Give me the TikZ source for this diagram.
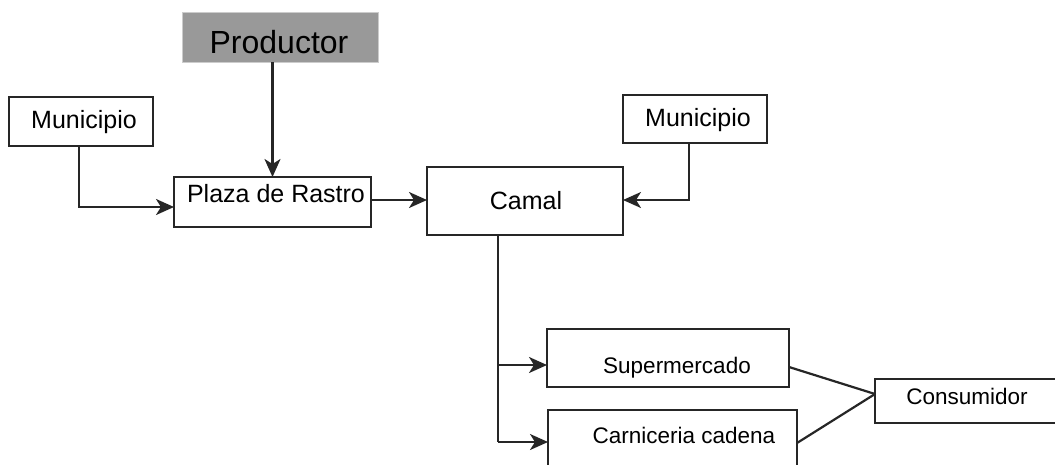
\documentclass[tikz,border=0pt]{standalone}
\usepackage{fontspec}
\setmainfont{Liberation Sans}
\usetikzlibrary{arrows.meta,calc}
\definecolor{ln}{HTML}{262626}
\definecolor{prodgray}{HTML}{999999}
\tikzset{
  box/.style={draw=ln, line width=2.2pt, fill=white, inner sep=0pt, outer sep=0pt},
  graybox/.style={draw=black!20, line width=1pt, fill=prodgray, inner sep=0pt, outer sep=0pt},
  conn/.style={draw=ln, line width=2.2pt},
  arr/.style={conn, -{Stealth[length=18pt,width=16pt,inset=5pt]}},
  txt/.style={anchor=base, inner sep=0pt, text=black},
  big/.style={font=\fontsize{32}{36}\selectfont},
  mid/.style={font=\fontsize{25}{29}\selectfont},
  sml/.style={font=\fontsize{22.5}{26}\selectfont},
}
\begin{document}
\begin{tikzpicture}[x=1pt,y=-1pt]
\useasboundingbox (0,0) rectangle (1055,464);
\clip (0,0) rectangle (1055,464);
% boxes
\node[graybox, minimum width=196, minimum height=50] (prod) at (280,37) {};
\node[box, minimum width=144, minimum height=49] (munL) at (81,121.5) {};
\node[box, minimum width=197, minimum height=50] (plaza) at (272.5,202) {};
\node[box, minimum width=196, minimum height=68] (camal) at (525,201) {};
\node[box, minimum width=144, minimum height=48] (munR) at (695,119) {};
\node[box, minimum width=242, minimum height=58] (super) at (668,358) {};
\node[box, minimum width=249, minimum height=80] (carn) at (672.5,450) {};
\node[box, minimum width=190, minimum height=44] (cons) at (970,401) {};
% texts
\node[txt, big] (tprod) at (279,53) {Productor};
\node[txt, mid] (tmunL) at (84,128) {Municipio};
\node[txt, mid] (tplaza) at (276,202) {Plaza de Rastro};
\node[txt, mid] (tcamal) at (526,209) {Camal};
\node[txt, mid] (tmunR) at (698,126) {Municipio};
\node[txt, sml] (tsuper) at (677,373) {Supermercado};
\node[txt, sml] (tcarn) at (684,443) {Carniceria cadena};
\node[txt, sml] (tcons) at (967,404) {Consumidor};
% connectors
\draw[arr] (prod.south -| plaza.north) -- (plaza.north);
\draw[arr] ([xshift=-2pt]munL.south) |- ([yshift=-5pt]plaza.west);
\draw[arr] ([yshift=2pt]plaza.east) -- ([yshift=2pt]plaza.east -| camal.west);
\draw[arr] ([xshift=-6pt]munR.south) |- ([yshift=1pt]camal.east);
\coordinate (j1) at (498,365);
\coordinate (j2) at (498,442);
\draw[conn] (camal.south -| j1) -- (j2);
\draw[arr] (j1) -- (j1 -| super.west);
\draw[arr] (j2) -- (j2 -| carn.west);
\draw[conn] ([yshift=-9pt]super.east) -- ([yshift=7pt]cons.west);
\draw[conn] (carn.east |- 0,443) -- ([yshift=7pt]cons.west);
\end{tikzpicture}
\end{document}
